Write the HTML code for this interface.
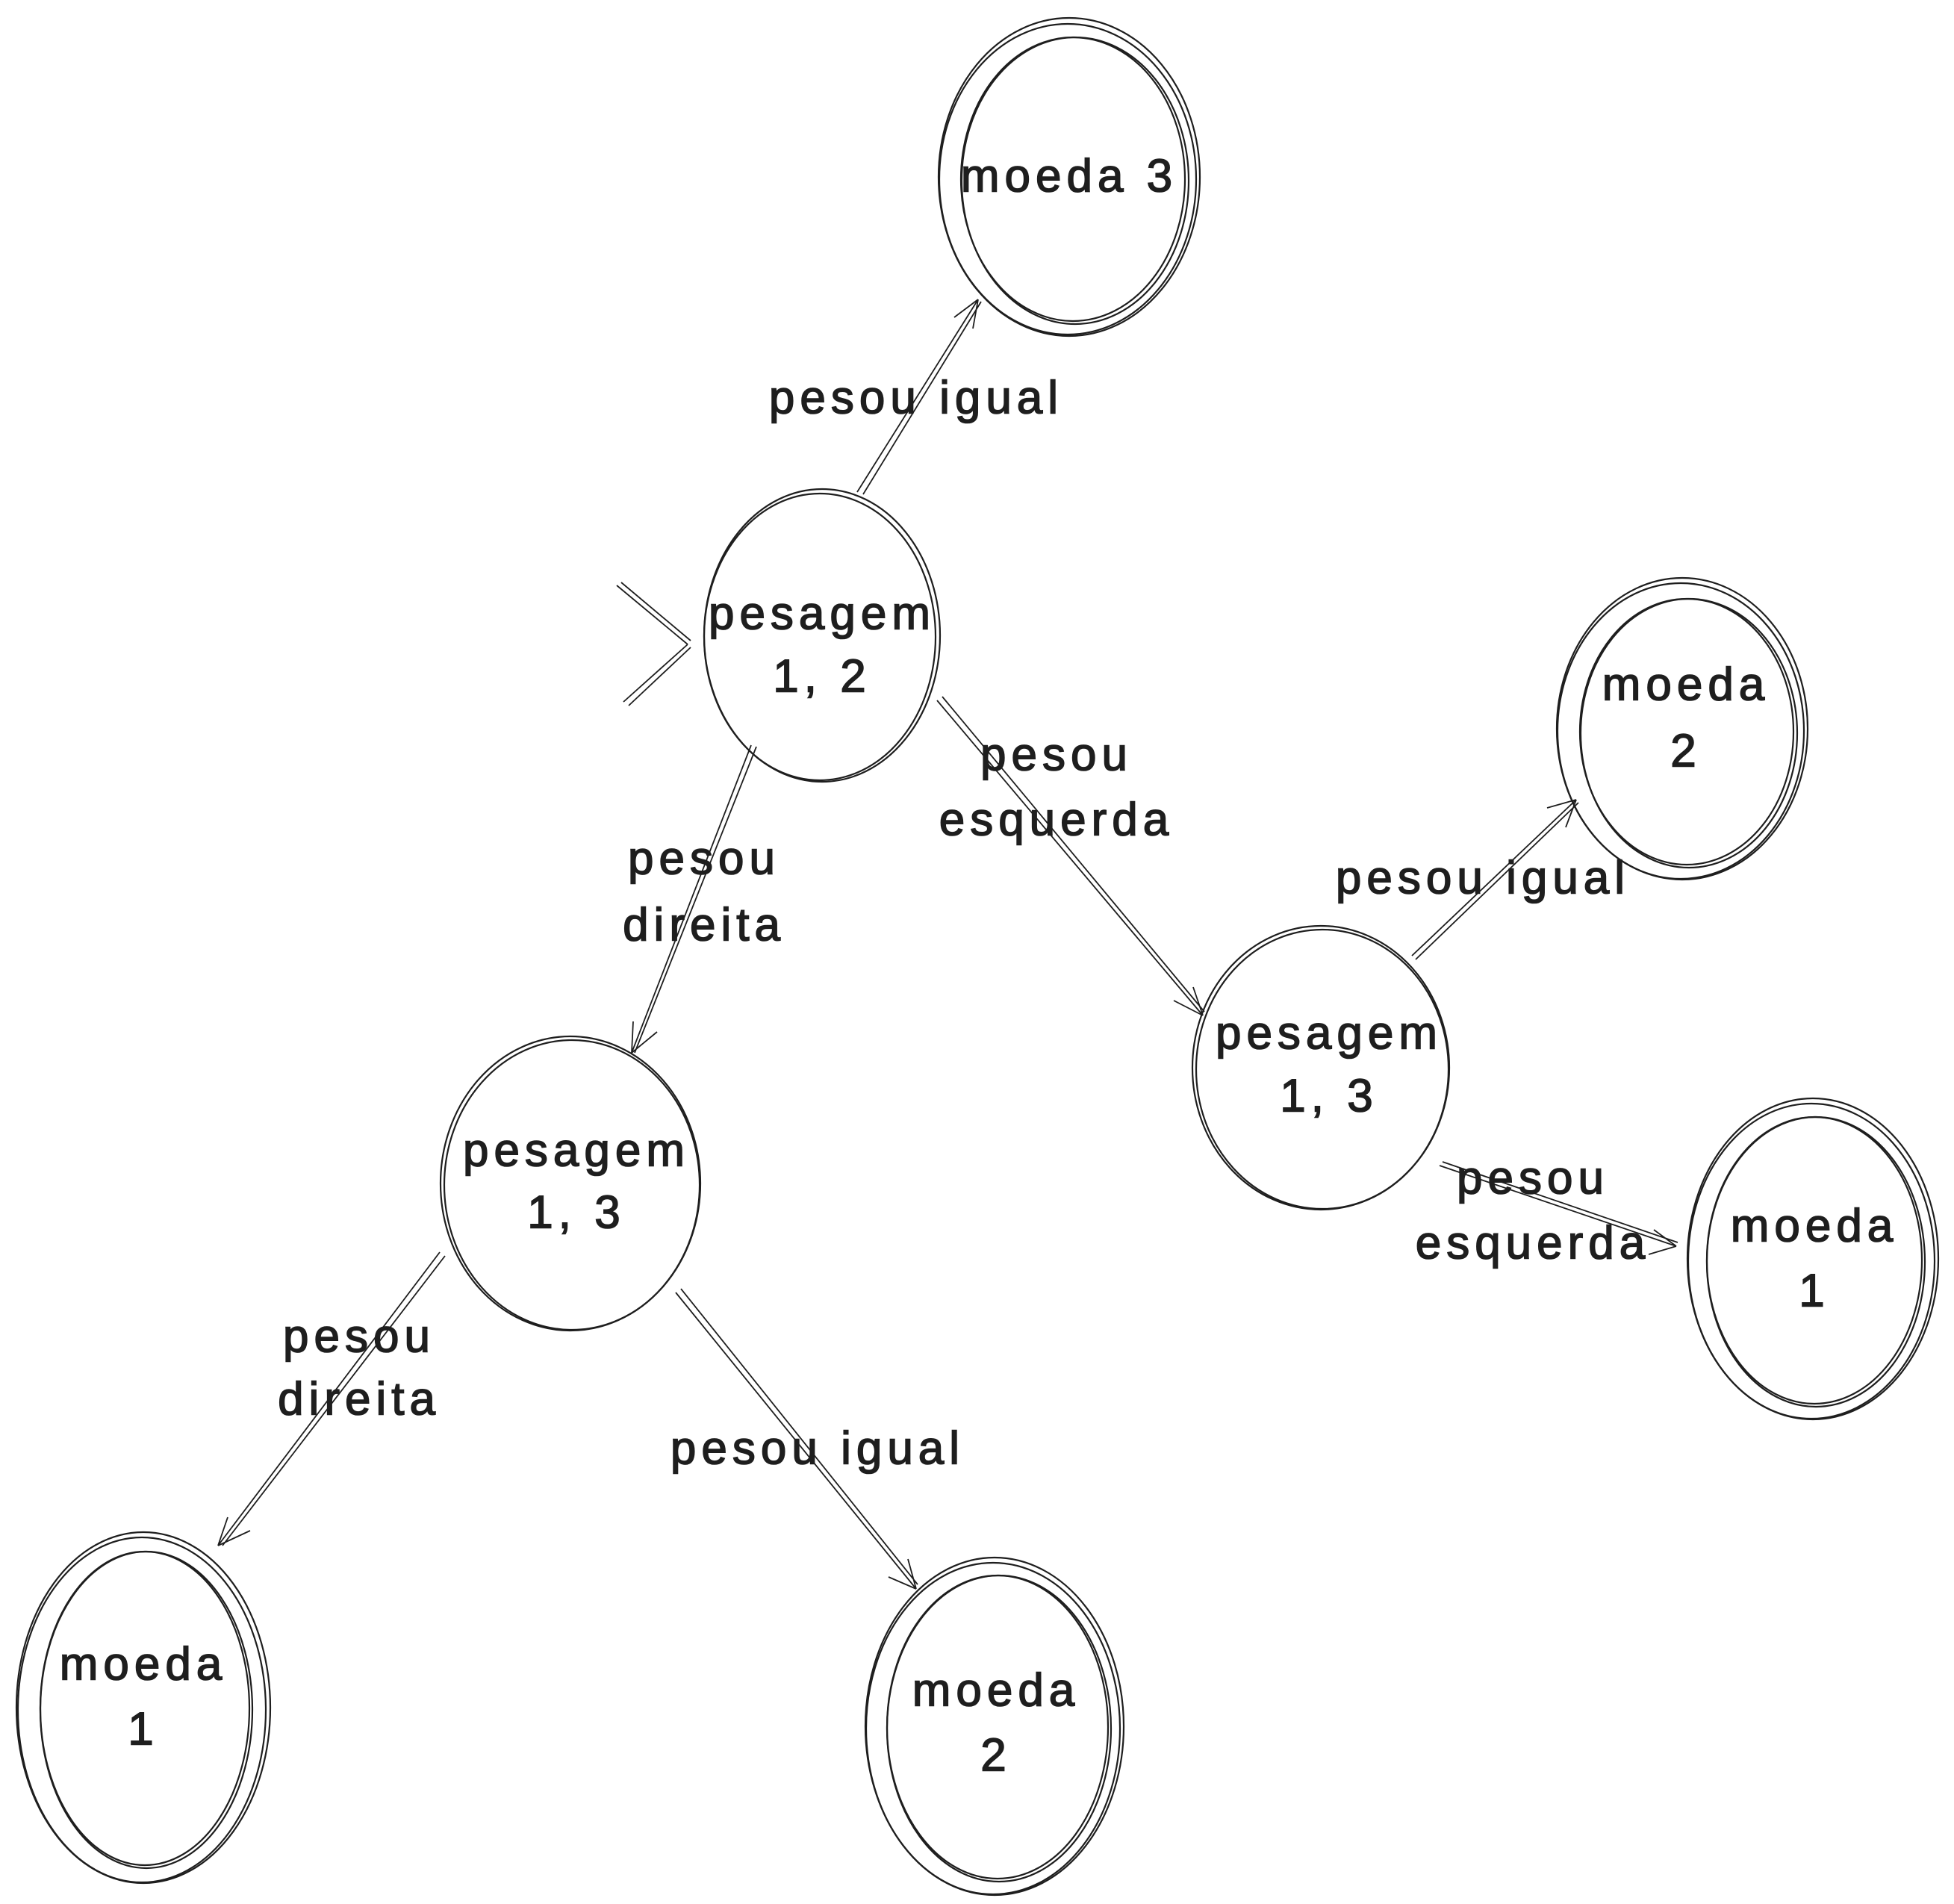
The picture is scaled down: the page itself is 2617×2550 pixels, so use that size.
<!DOCTYPE html>
<html><head><meta charset="utf-8"><style>
html,body{margin:0;padding:0;background:#fff;}
svg{display:block}
text{font-family:"Liberation Sans",sans-serif;font-size:62px;letter-spacing:7px;fill:#1e1e1e;stroke:#1e1e1e;stroke-width:1.6;text-anchor:middle;dominant-baseline:middle;}
</style></head><body>
<svg width="2617" height="2550" viewBox="0 0 2617 2550" xmlns="http://www.w3.org/2000/svg">
<g fill="none" stroke="#1e1e1e" stroke-width="2.2">
<ellipse cx="1432" cy="237" rx="175" ry="213"/><ellipse cx="1430" cy="240" rx="172" ry="208"/>
<ellipse cx="1440" cy="242" rx="152" ry="192"/><ellipse cx="1437" cy="240" rx="150" ry="190"/>
<ellipse cx="1101" cy="851" rx="158" ry="196"/><ellipse cx="1098" cy="853" rx="155" ry="192"/>
<ellipse cx="764" cy="1585" rx="174" ry="197"/><ellipse cx="766" cy="1587" rx="171" ry="194"/>
<ellipse cx="1769" cy="1430" rx="172" ry="190"/><ellipse cx="1771" cy="1432" rx="169" ry="187"/>
<ellipse cx="2253" cy="976" rx="168" ry="202"/><ellipse cx="2251" cy="979" rx="165" ry="198"/>
<ellipse cx="2262" cy="982" rx="145" ry="180"/><ellipse cx="2259" cy="980" rx="143" ry="178"/>
<ellipse cx="2428" cy="1686" rx="168" ry="215"/><ellipse cx="2426" cy="1689" rx="165" ry="211"/>
<ellipse cx="2432" cy="1690" rx="146" ry="194"/><ellipse cx="2430" cy="1688" rx="144" ry="192"/>
<ellipse cx="192" cy="2287" rx="170" ry="235"/><ellipse cx="190" cy="2290" rx="166" ry="231"/>
<ellipse cx="196" cy="2290" rx="142" ry="212"/><ellipse cx="194" cy="2288" rx="140" ry="210"/>
<ellipse cx="1332" cy="2312" rx="173" ry="226"/><ellipse cx="1330" cy="2315" rx="170" ry="222"/>
<ellipse cx="1338" cy="2315" rx="150" ry="205"/><ellipse cx="1336" cy="2313" rx="148" ry="203"/>
<g stroke-width="1.8">
<path d="M1148 659 L1310 401 M1156 662 L1314 404 M1310 401 L1278 425 M1310 401 L1303 440"/>
<path d="M1006 998 L846 1410 M1013 1000 L850 1410 M846 1410 L848 1368 M846 1410 L880 1382"/>
<path d="M1255 938 L1611 1360 M1262 933 L1613 1355 M1611 1360 L1572 1340 M1611 1360 L1598 1322"/>
<path d="M1891 1280 L2111 1071 M1896 1285 L2114 1075 M2111 1071 L2072 1082 M2111 1071 L2097 1108"/>
<path d="M1928 1561 L2245 1669 M1932 1556 L2247 1664 M2245 1669 L2208 1680 M2245 1669 L2215 1647"/>
<path d="M589 1677 L292 2070 M596 1682 L298 2070 M292 2070 L335 2050 M292 2070 L305 2032"/>
<path d="M905 1731 L1227 2128 M912 1726 L1229 2122 M1227 2128 L1216 2088 M1227 2128 L1190 2112"/>
<path d="M826 784 L921 863 M832 780 L925 858 M835 940 L921 863 M842 945 L925 867"/>
</g>
</g>
<text x="1432" y="240">moeda 3</text>
<text x="1101" y="826">pesagem</text><text x="1101" y="910">1, 2</text>
<text x="772" y="1545">pesagem</text><text x="772" y="1628">1, 3</text>
<text x="1780" y="1388">pesagem</text><text x="1780" y="1472">1, 3</text>
<text x="2258" y="921">moeda</text><text x="2258" y="1010">2</text>
<text x="2430" y="1646">moeda</text><text x="2430" y="1733">1</text>
<text x="192" y="2233">moeda</text><text x="192" y="2320">1</text>
<text x="1334" y="2268">moeda</text><text x="1334" y="2355">2</text>
<text x="1227" y="537">pesou igual</text>
<text x="943" y="1154">pesou</text><text x="943" y="1243">direita</text>
<text x="1415" y="1015">pesou</text><text x="1415" y="1102">esquerda</text>
<text x="1986" y="1180">pesou igual</text>
<text x="2053" y="1582">pesou</text><text x="2053" y="1669">esquerda</text>
<text x="481" y="1794">pesou</text><text x="481" y="1878">direita</text>
<text x="1095" y="1944">pesou igual</text>
</svg>
</body></html>
